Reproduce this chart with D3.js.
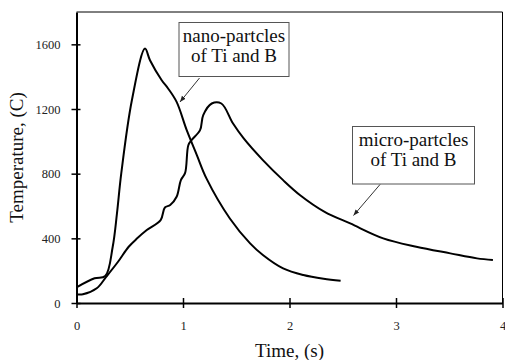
<!DOCTYPE html>
<html>
<head>
<meta charset="utf-8">
<script src="https://cdn.jsdelivr.net/npm/d3@7"></script>
<style>
  html, body { margin: 0; padding: 0; background: #fff; }
  svg { display: block; font-family: "Liberation Serif", "Times New Roman", serif; }
</style>
</head>
<body>
<div id="chart"></div>
<script>
// Data: time (s) and temperature (C)
const nanoTime = [0, 0.17, 0.27, 0.34, 0.38, 0.42, 0.52, 0.643, 0.69, 0.8, 0.86, 0.94, 1.035, 1.13, 1.22, 1.44, 1.63, 1.75, 1.94, 2.13, 2.32, 2.48];
const nanoTemp = [97, 153, 167, 348, 554, 800, 1254, 1574, 1502, 1378, 1327, 1244, 1069, 915, 771, 523, 369, 297, 214, 173, 150, 138];

const microTime = [0, 0.06, 0.19, 0.28, 0.39, 0.49, 0.57, 0.66, 0.79, 0.83, 0.88, 0.94, 0.98, 1.02, 1.05, 1.08, 1.16, 1.19, 1.27, 1.36, 1.47, 1.57, 1.75, 1.94, 2.1, 2.33, 2.57, 2.88, 3.19, 3.51, 3.76, 3.91];
const microTemp = [54, 54, 91, 163, 255, 348, 400, 451, 513, 591, 606, 657, 760, 805, 976, 1007, 1069, 1162, 1234, 1234, 1110, 1018, 884, 760, 667, 564, 492, 400, 348, 307, 276, 266];

const xTicks = [0, 1, 2, 3, 4];
const yTicks = [0, 400, 800, 1200, 1600];

const labels = [
  { lines: ["nano-partcles", "of Ti and B"], box: [179, 22.5, 110, 54], from: [199.5, 78], to: [180, 102] },
  { lines: ["micro-partcles", "of Ti and B"], box: [352.5, 126.5, 122, 57.5], from: [380, 184.5], to: [353.5, 215.5] }
];

const w = 505, h = 360;
const mLeft = 76.5, mRight = 502.5, mTop = 12, mBottom = 303;
const serif = "Liberation Serif";

const svg = d3.select("#chart").append("svg")
  .attr("width", w)
  .attr("height", h);

const x = d3.scaleLinear().domain([0, 4]).range([mLeft, mRight]);
const y = d3.scaleLinear().domain([0, 1800]).range([mBottom, mTop]);

// ramme (top og højre)
svg.append("path")
  .attr("d", `M${mLeft},${mTop}H${mRight}V${mBottom}`)
  .attr("fill", "none")
  .attr("stroke", "#000")
  .attr("stroke-width", 1);

// x-akse
const gx = svg.append("g")
  .attr("transform", `translate(0,${mBottom})`)
  .call(d3.axisBottom(x).tickValues(xTicks).tickFormat(d3.format("d")).tickSizeOuter(0));
gx.select(".domain").attr("stroke-width", 2);
gx.selectAll(".tick line").attr("y1", -5).attr("y2", 5).attr("stroke-width", 1.5);
gx.selectAll(".tick text")
  .attr("y", 18)
  .attr("font-size", 12.5)
  .attr("font-family", serif)
  .attr("fill", "#222");

// y-akse
const gy = svg.append("g")
  .attr("transform", `translate(${mLeft},0)`)
  .call(d3.axisLeft(y).tickValues(yTicks).tickFormat(d3.format("d")).tickSizeOuter(0));
gy.select(".domain").attr("stroke-width", 2);
gy.selectAll(".tick line").attr("x1", -5).attr("x2", 4).attr("stroke-width", 1.5);
gy.selectAll(".tick text")
  .attr("x", -16)
  .attr("font-size", 12.5)
  .attr("font-family", serif)
  .attr("fill", "#222");

// kurver
const line = d3.line()
  .x(d => x(d[0]))
  .y(d => y(d[1]))
  .curve(d3.curveCatmullRom.alpha(0.5));

[[nanoTime, nanoTemp], [microTime, microTemp]].forEach(([t, v]) => {
  svg.append("path")
    .datum(t.map((d, i) => [d, v[i]]))
    .attr("d", line)
    .attr("fill", "none")
    .attr("stroke", "#000")
    .attr("stroke-width", 2)
    .attr("stroke-linejoin", "round");
});

// pilespids
svg.append("defs").append("marker")
  .attr("id", "arrow")
  .attr("viewBox", "0 0 10 10")
  .attr("refX", 10).attr("refY", 5)
  .attr("markerWidth", 6).attr("markerHeight", 6)
  .attr("orient", "auto")
  .append("path")
  .attr("d", "M0,1L10,5L0,9Z")
  .attr("fill", "#222");

// annoteringer
labels.forEach(l => {
  const [bx, by, bw, bh] = l.box;
  svg.append("rect")
    .attr("x", bx).attr("y", by)
    .attr("width", bw).attr("height", bh)
    .attr("fill", "#fff")
    .attr("stroke", "#555")
    .attr("stroke-width", 1);
  l.lines.forEach((s, i) => {
    svg.append("text")
      .attr("x", bx + bw / 2)
      .attr("y", by + 19.5 + i * 20)
      .attr("text-anchor", "middle")
      .attr("font-family", serif)
      .attr("font-size", 19)
      .attr("fill", "#111")
      .text(s);
  });
  svg.append("line")
    .attr("x1", l.from[0]).attr("y1", l.from[1])
    .attr("x2", l.to[0]).attr("y2", l.to[1])
    .attr("stroke", "#333")
    .attr("stroke-width", 1)
    .attr("marker-end", "url(#arrow)");
});

// aksetitler
svg.append("text")
  .attr("x", (mLeft + mRight) / 2)
  .attr("y", 357)
  .attr("text-anchor", "middle")
  .attr("font-family", serif)
  .attr("font-size", 19)
  .attr("fill", "#111")
  .text("Time, (s)");

svg.append("text")
  .attr("transform", "rotate(-90)")
  .attr("x", -(mTop + mBottom) / 2)
  .attr("y", 23)
  .attr("text-anchor", "middle")
  .attr("font-family", serif)
  .attr("font-size", 19)
  .attr("fill", "#111")
  .text("Temperature, (C)");
</script>
</body>
</html>
